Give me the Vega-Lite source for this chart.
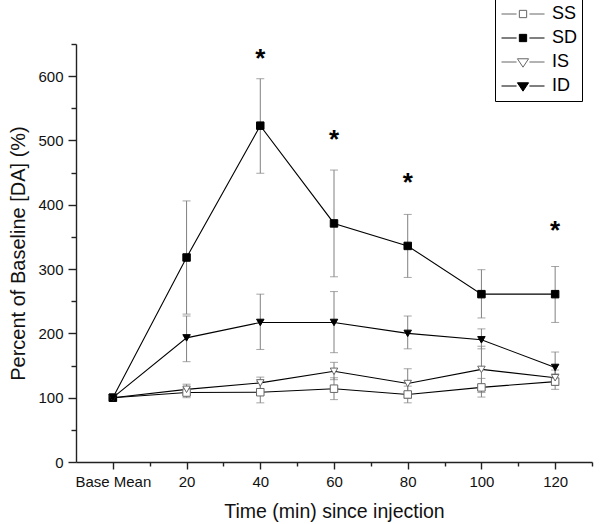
{
  "$schema": "https://vega.github.io/schema/vega-lite/v6.json",
  "width": 516,
  "height": 418,
  "autosize": {"type": "none"},
  "padding": {"left": 76, "top": 44, "right": 8, "bottom": 62},
  "background": "white",
  "config": {
    "font": "Liberation Sans",
    "view": {"stroke": null},
    "axis": {
      "grid": false,
      "domainColor": "#222222",
      "tickColor": "#222222",
      "domainWidth": 1.4,
      "tickWidth": 1.4,
      "labelColor": "#111111",
      "titleColor": "#111111",
      "labelFont": "Liberation Sans",
      "titleFont": "Liberation Sans",
      "titleFontWeight": "normal",
      "labelFontSize": 15
    }
  },
  "datasets": {
    "main": [
      {"series": "SS", "t": 0, "v": 100, "lo": null, "hi": null},
      {"series": "SS", "t": 20, "v": 108, "lo": 100, "hi": 116},
      {"series": "SS", "t": 40, "v": 108.5, "lo": 92, "hi": 125},
      {"series": "SS", "t": 60, "v": 114, "lo": 97, "hi": 131},
      {"series": "SS", "t": 80, "v": 105, "lo": 92, "hi": 118},
      {"series": "SS", "t": 100, "v": 116, "lo": 101, "hi": 130},
      {"series": "SS", "t": 120, "v": 125, "lo": 113, "hi": 137},
      {"series": "SD", "t": 0, "v": 100, "lo": null, "hi": null},
      {"series": "SD", "t": 20, "v": 318, "lo": 230, "hi": 406},
      {"series": "SD", "t": 40, "v": 523, "lo": 449, "hi": 596},
      {"series": "SD", "t": 60, "v": 371, "lo": 288, "hi": 454},
      {"series": "SD", "t": 80, "v": 336, "lo": 287, "hi": 385},
      {"series": "SD", "t": 100, "v": 261, "lo": 224, "hi": 299},
      {"series": "SD", "t": 120, "v": 261, "lo": 217, "hi": 304},
      {"series": "IS", "t": 0, "v": 100, "lo": null, "hi": null},
      {"series": "IS", "t": 20, "v": 113, "lo": 105, "hi": 121},
      {"series": "IS", "t": 40, "v": 123, "lo": 114, "hi": 132},
      {"series": "IS", "t": 60, "v": 141, "lo": 128, "hi": 155},
      {"series": "IS", "t": 80, "v": 122, "lo": 99, "hi": 145},
      {"series": "IS", "t": 100, "v": 144, "lo": 108, "hi": 180},
      {"series": "IS", "t": 120, "v": 131, "lo": 119, "hi": 143},
      {"series": "ID", "t": 0, "v": 100, "lo": null, "hi": null},
      {"series": "ID", "t": 20, "v": 193, "lo": 156, "hi": 227},
      {"series": "ID", "t": 40, "v": 217, "lo": 175, "hi": 261},
      {"series": "ID", "t": 60, "v": 217, "lo": 170, "hi": 265},
      {"series": "ID", "t": 80, "v": 200, "lo": 176, "hi": 227},
      {"series": "ID", "t": 100, "v": 190, "lo": 176, "hi": 207},
      {"series": "ID", "t": 120, "v": 147, "lo": 123, "hi": 171}
    ],
    "stars": [
      {"t": 40, "y": 634, "label": "*"},
      {"t": 60, "y": 508, "label": "*"},
      {"t": 80, "y": 441, "label": "*"},
      {"t": 120, "y": 367, "label": "*"}
    ]
  },
  "layer": [
    {
      "data": {"name": "main"},
      "transform": [{"filter": "datum.t > 0"}],
      "mark": {"type": "errorbar", "ticks": {"size": 8, "color": "#808080"}, "rule": {"color": "#808080"}, "thickness": 1, "color": "#808080"},
      "encoding": {
        "x": {"field": "t", "type": "quantitative", "scale": {"domain": [-10, 130], "nice": false, "zero": false},
              "axis": {"orient": "bottom", "values": [10, 30, 50, 70, 90, 110, 130], "tickSize": 4, "labels": false, "domain": false, "title": null}},
        "y": {"field": "lo", "type": "quantitative", "scale": {"domain": [0, 650], "nice": false},
              "axis": {"orient": "left", "values": [50, 150, 250, 350, 450, 550, 650], "tickSize": 5, "labels": false, "domain": false, "title": null}},
        "y2": {"field": "hi"}
      }
    },
    {
      "data": {"name": "main"},
      "mark": {"type": "line", "color": "black", "strokeWidth": 1.1},
      "encoding": {
        "x": {"field": "t", "type": "quantitative", "scale": {"domain": [-10, 130], "nice": false, "zero": false}, "axis": null},
        "y": {"field": "v", "type": "quantitative", "scale": {"domain": [0, 650], "nice": false}, "axis": null},
        "detail": {"field": "series", "type": "nominal"}
      }
    },
    {
      "data": {"name": "main"},
      "mark": {"type": "point", "strokeWidth": 1, "opacity": 1},
      "encoding": {
        "x": {"field": "t", "type": "quantitative", "scale": {"domain": [-10, 130], "nice": false, "zero": false},
              "axis": {"orient": "bottom", "values": [0, 20, 40, 60, 80, 100, 120], "labelExpr": "datum.value == 0 ? 'Base Mean' : datum.label",
                       "tickSize": 7, "labelPadding": 5, "title": "Time (min) since injection", "titleFontSize": 19.5, "titlePadding": 13}},
        "y": {"field": "v", "type": "quantitative", "scale": {"domain": [0, 650], "nice": false},
              "axis": {"orient": "left", "values": [0, 100, 200, 300, 400, 500, 600], "tickSize": 8, "labelPadding": 5,
                       "title": "Percent of Baseline [DA] (%)", "titleFontSize": 20, "titlePadding": 9}},
        "shape": {"field": "series", "type": "nominal", "scale": {"domain": ["SS", "SD", "IS", "ID"], "range": ["square", "square", "triangle-down", "triangle-down"]}, "legend": null},
        "fill": {"field": "series", "type": "nominal", "scale": {"domain": ["SS", "SD", "IS", "ID"], "range": ["white", "black", "white", "black"]}, "legend": null},
        "stroke": {"field": "series", "type": "nominal", "scale": {"domain": ["SS", "SD", "IS", "ID"], "range": ["#666666", "black", "#666666", "black"]}, "legend": null},
        "size": {"field": "series", "type": "nominal", "scale": {"domain": ["SS", "SD", "IS", "ID"], "range": [56, 56, 115, 115]}, "legend": null}
      }
    },
    {
      "data": {"name": "main"},
      "mark": {"type": "point", "opacity": 0, "filled": true},
      "encoding": {
        "x": {"field": "t", "type": "quantitative", "scale": {"domain": [-10, 130], "nice": false, "zero": false}, "axis": null},
        "y": {"field": "v", "type": "quantitative", "scale": {"domain": [0, 650], "nice": false}, "axis": null},
        "shape": {"field": "series", "type": "nominal",
                  "scale": {"domain": ["SS", "SD", "IS", "ID"], "range": [
                    "M-1,0H-0.3M0.3,0H1M-0.17,-0.17H0.17V0.17H-0.17Z",
                    "M-1,0H-0.3M0.3,0H1M-0.17,-0.17H0.17V0.17H-0.17Z",
                    "M-1,0H-0.3M0.3,0H1M-0.26,-0.15H0.26L0,0.24Z",
                    "M-1,0H-0.3M0.3,0H1M-0.26,-0.15H0.26L0,0.24Z"]},
                  "legend": {"orient": "none", "legendX": 419, "legendY": -45, "title": null, "symbolSize": 1849, "symbolStrokeWidth": 1, "symbolOpacity": 1,
                             "labelFontSize": 18, "labelFont": "Liberation Sans", "labelColor": "black", "labelOffset": 7, "symbolOffset": 2,
                             "clipHeight": 22, "rowPadding": 2, "padding": 4, "strokeColor": "black", "fillColor": "white"}},
        "fill": {"field": "series", "type": "nominal", "scale": {"domain": ["SS", "SD", "IS", "ID"], "range": ["white", "black", "white", "black"]},
                 "legend": {"orient": "none", "legendX": 419, "legendY": -45, "title": null, "symbolSize": 1849, "symbolStrokeWidth": 1, "symbolOpacity": 1,
                            "labelFontSize": 18, "labelFont": "Liberation Sans", "labelColor": "black", "labelOffset": 7, "symbolOffset": 2,
                            "clipHeight": 22, "rowPadding": 2, "padding": 4, "strokeColor": "black", "fillColor": "white"}},
        "stroke": {"field": "series", "type": "nominal", "scale": {"domain": ["SS", "SD", "IS", "ID"], "range": ["#666666", "black", "#666666", "black"]},
                   "legend": {"orient": "none", "legendX": 419, "legendY": -45, "title": null, "symbolSize": 1849, "symbolStrokeWidth": 1, "symbolOpacity": 1,
                              "labelFontSize": 18, "labelFont": "Liberation Sans", "labelColor": "black", "labelOffset": 7, "symbolOffset": 2,
                              "clipHeight": 22, "rowPadding": 2, "padding": 4, "strokeColor": "black", "fillColor": "white"}}
      }
    },
    {
      "data": {"name": "stars"},
      "mark": {"type": "text", "fontSize": 26, "fontWeight": "bold", "font": "Liberation Sans", "baseline": "middle", "dy": 5, "color": "black"},
      "encoding": {
        "x": {"field": "t", "type": "quantitative", "scale": {"domain": [-10, 130], "nice": false, "zero": false}, "axis": null},
        "y": {"field": "y", "type": "quantitative", "scale": {"domain": [0, 650], "nice": false}, "axis": null},
        "text": {"field": "label", "type": "nominal"}
      }
    }
  ],
  "resolve": {
    "scale": {"shape": "independent", "fill": "independent", "stroke": "independent", "size": "independent"},
    "axis": {"x": "independent", "y": "independent"}
  }
}
